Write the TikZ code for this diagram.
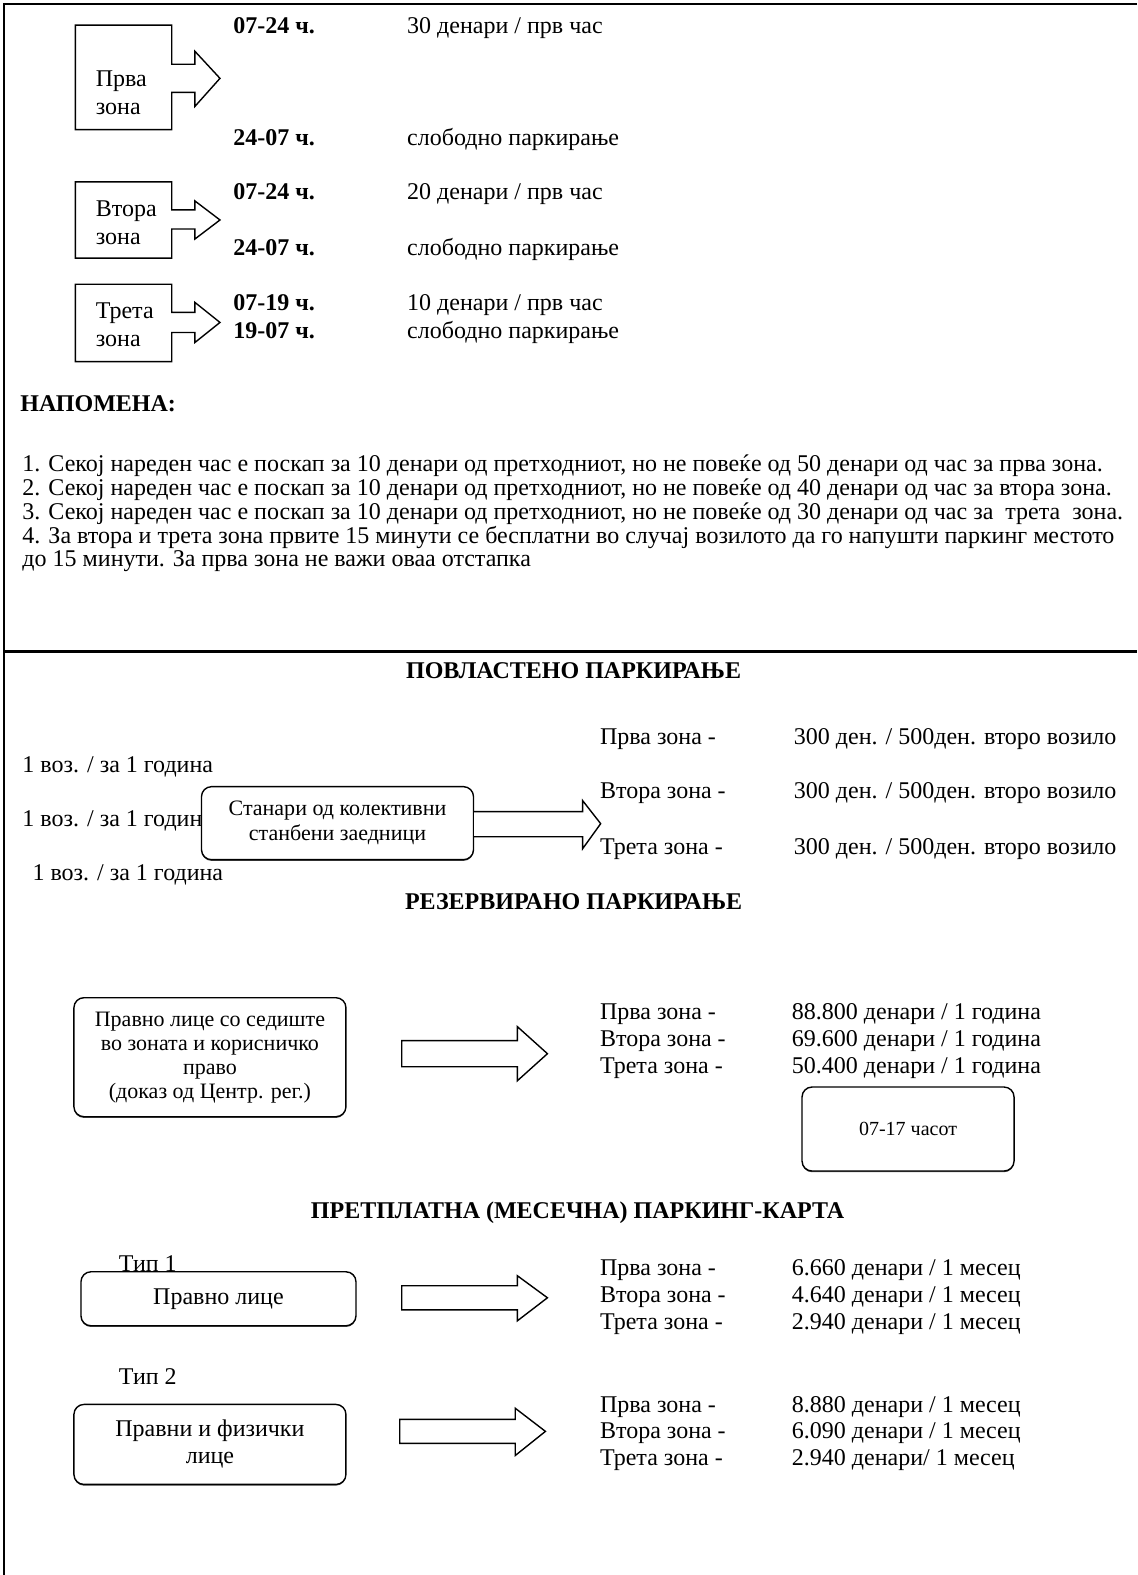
\documentclass[tikz,border=0pt]{standalone}
\usepackage{fontspec}
\setmainfont{Liberation Serif}
\usetikzlibrary{positioning,shadows}
\tikzset{
    txt/.style = {
        anchor=west,
        inner sep=0pt,
        text height=10pt,
        text depth=2pt,
        font=\fontsize{12pt}{14pt}\selectfont
    },
    hrs/.style = {
        txt,
        font=\fontsize{12pt}{14pt}\selectfont\bfseries
    },
    heading/.style = {
        inner sep=0pt,
        text height=10pt,
        text depth=2pt,
        font=\fontsize{12pt}{14pt}\selectfont\bfseries
    },
    zonename/.style = {
        anchor=west,
        inner sep=0pt,
        align=left,
        font=\fontsize{12pt}{14pt}\selectfont
    },
    zonebox/.style = {
        draw,
        line width=0.7pt,
        fill=white
    },
    rbox/.style = {
        draw,
        shape=rectangle,
        rounded corners=5pt,
        line width=0.7pt,
        fill=white,
        align=center,
        inner sep=2pt,
        drop shadow={shadow xshift=0pt, shadow yshift=-0.6pt, fill=black!70, opacity=1}
    },
    hollow/.style = {
        draw,
        line width=0.7pt,
        fill=white
    },
    frame/.style = {
        line width=1pt
    },
}

\begin{document}
\begin{tikzpicture}[x=0.5022pt, y=-0.5022pt]
                \useasboundingbox (0,0) rectangle (1132,1568);
                \draw[frame] (1132,4) -- (4,4) -- (4,1568);
                \draw[frame, line width=1.5pt] (4,649) -- (1132,649);

                % zones with their tariffs
                \draw[zonebox] (75,25) -- (171,25) -- (171,64) -- (194,64) -- (194,51) -- (219,78) -- (194,106) -- (194,92) -- (171,92) -- (171,129) -- (75,129) -- cycle;
                \draw[zonebox] (75,181) -- (171,181) -- (171,209) -- (194,209) -- (194,200) -- (219,219) -- (194,238) -- (194,228) -- (171,228) -- (171,257) -- (75,257) -- cycle;
                \draw[zonebox] (75,283) -- (171,283) -- (171,311) -- (194,311) -- (194,301) -- (219,321) -- (194,341) -- (194,331) -- (171,331) -- (171,360) -- (75,360) -- cycle;
                \node[zonename] (zone1) at (95,92) {Прва\\зона};
                \node[zonename] (zone2) at (95,222) {Втора\\зона};
                \node[zonename] (zone3) at (95,323) {Трета\\зона};

                \node[hrs] (t1a) at (232,25) {07-24 ч.};
                \node[txt] (p1a) at (405,25) {30 денари / прв час};
                \node[hrs] (t1b) at (232,137) {24-07 ч.};
                \node[txt] (p1b) at (405,137) {слободно паркирање};
                \node[hrs] (t2a) at (232,191) {07-24 ч.};
                \node[txt] (p2a) at (405,191) {20 денари / прв час};
                \node[hrs] (t2b) at (232,246) {24-07 ч.};
                \node[txt] (p2b) at (405,246) {слободно паркирање};
                \node[hrs] (t3a) at (232,301) {07-19 ч.};
                \node[txt] (p3a) at (405,301) {10 денари / прв час};
                \node[hrs] (t3b) at (232,329) {19-07 ч.};
                \node[txt] (p3b) at (405,329) {слободно паркирање};

                % notes
                \node[hrs] (note) at (20,402) {НАПОМЕНА:};
                \node[txt] (n1) at (22,461) {1. Секој нареден час е поскап за 10 денари од претходниот, но не повеќе од 50 денари од час за прва зона.};
                \node[txt] (n2) at (22,485) {2. Секој нареден час е поскап за 10 денари од претходниот, но не повеќе од 40 денари од час за втора зона.};
                \node[txt] (n3) at (22,509) {3. Секој нареден час е поскап за 10 денари од претходниот, но не повеќе од 30 денари од час за~ трета~ зона.};
                \node[txt] (n4) at (22,533) {4. За втора и трета зона првите 15 минути се бесплатни во случај возилото да го напушти паркинг местото};
                \node[txt] (n5) at (22,556) {до 15 минути. За прва зона не важи оваа отстапка};

                % privileged parking
                \node[heading] (povl) at (571,668) {ПОВЛАСТЕНО ПАРКИРАЊЕ};
                \node[txt] (pz1) at (597,733) {Прва зона -};
                \node[txt] (pv1) at (790,733) {300 ден. / 500ден. второ возило};
                \node[txt] (pz2) at (597,787) {Втора зона -};
                \node[txt] (pv2) at (790,787) {300 ден. / 500ден. второ возило};
                \node[txt] (pz3) at (597,843) {Трета зона -};
                \node[txt] (pv3) at (790,843) {300 ден. / 500ден. второ возило};
                \node[txt] (voz1) at (22,761) {1 воз. / за 1 година};
                \node[txt] (voz2) at (22,815) {1 воз. / за 1 година};
                \node[txt] (voz3) at (32,869) {1 воз. / за 1 година};
                \node[rbox, minimum width=136pt, minimum height=36.5pt, font=\fontsize{11pt}{12.5pt}\selectfont] (stan) at (336,819.5) {Станари од колективни\\станбени заедници};
                \draw[hollow] (472,808) -- (580,808) -- (580,797) -- (598,820) -- (580,845) -- (580,833) -- (472,833);

                % reserved parking
                \node[heading] (rez) at (571,897) {РЕЗЕРВИРАНО ПАРКИРАЊЕ};
                \node[rbox, minimum width=136pt, minimum height=59.5pt, font=\fontsize{11pt}{12pt}\selectfont] (pravno) at (209,1052.5) {Правно лице со седиште\\во зоната и корисничко\\право\\(доказ од Центр. рег.)};
                \draw[hollow] (400,1036) -- (515,1036) -- (515,1022) -- (545,1049) -- (515,1076) -- (515,1062) -- (400,1062) -- cycle;
                \node[txt] (rz1) at (597,1007) {Прва зона -};
                \node[txt] (rv1) at (788,1007) {88.800 денари / 1 година};
                \node[txt] (rz2) at (597,1034) {Втора зона -};
                \node[txt] (rv2) at (788,1034) {69.600 денари / 1 година};
                \node[txt] (rz3) at (597,1061) {Трета зона -};
                \node[txt] (rv3) at (788,1061) {50.400 денари / 1 година};
                \node[rbox, minimum width=106pt, minimum height=42pt, font=\fontsize{10pt}{12pt}\selectfont] (hours) at (904,1124) {07-17 часот};

                % monthly card
                \node[heading] (pret) at (575,1205) {ПРЕТПЛАТНА (МЕСЕЧНА) ПАРКИНГ-КАРТА};
                \node[txt] (tip1) at (118,1258) {Тип 1};
                \node[rbox, minimum width=137.5pt, minimum height=27pt, font=\fontsize{12pt}{14pt}\selectfont] (plice) at (217.5,1293) {Правно лице};
                \draw[hollow] (400,1280) -- (515,1280) -- (515,1270) -- (545,1292) -- (515,1315) -- (515,1304) -- (400,1304) -- cycle;
                \node[txt] (mz1) at (597,1262) {Прва зона -};
                \node[txt] (mv1) at (788,1262) {6.660 денари / 1 месец};
                \node[txt] (mz2) at (597,1289) {Втора зона -};
                \node[txt] (mv2) at (788,1289) {4.640 денари / 1 месец};
                \node[txt] (mz3) at (597,1316) {Трета зона -};
                \node[txt] (mv3) at (788,1316) {2.940 денари / 1 месец};

                \node[txt] (tip2) at (118,1370) {Тип 2};
                \node[rbox, minimum width=136pt, minimum height=40pt, font=\fontsize{12pt}{13.5pt}\selectfont] (pflice) at (209,1438) {Правни и физички\\лице};
                \draw[hollow] (398,1413) -- (513,1413) -- (513,1402) -- (543,1425) -- (513,1449) -- (513,1437) -- (398,1437) -- cycle;
                \node[txt] (fz1) at (597,1398) {Прва зона -};
                \node[txt] (fv1) at (788,1398) {8.880 денари / 1 месец};
                \node[txt] (fz2) at (597,1424) {Втора зона -};
                \node[txt] (fv2) at (788,1424) {6.090 денари / 1 месец};
                \node[txt] (fz3) at (597,1451) {Трета зона -};
                \node[txt] (fv3) at (788,1451) {2.940 денари/ 1 месец};
\end{tikzpicture}
\end{document}
